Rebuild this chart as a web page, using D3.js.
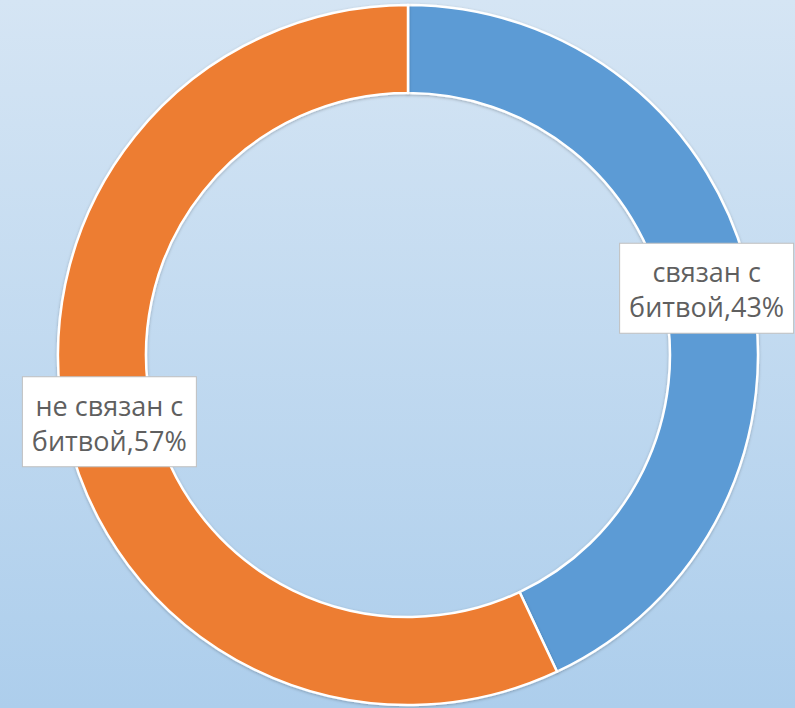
<!DOCTYPE html>
<html>
<head>
<meta charset="utf-8">
<script src="https://cdnjs.cloudflare.com/ajax/libs/d3/7.8.5/d3.min.js"></script>
<style>
  body { margin: 0; }
  svg { display: block; }
</style>
</head>
<body>
<svg id="canvas"></svg>
<script>
let categories = ["связан с битвой", "не связан с битвой"]
let shares = [43, 57]
let labelLines = [["связан с", "битвой,43%"], ["не связан с", "битвой,57%"]]
let colors = ["#5b9bd5", "#ed7d31"]

let width = 795
let height = 708

let canvas = d3.select("#canvas")
canvas.attr("width", width).attr("height", height)

// background gradient
let defs = canvas.append("defs")
let grad = defs.append("linearGradient")
               .attr("id", "bg")
               .attr("x1", 0).attr("y1", 0).attr("x2", 0).attr("y2", 1)
grad.append("stop").attr("offset", "0%").attr("stop-color", "#d5e5f4")
grad.append("stop").attr("offset", "100%").attr("stop-color", "#adceec")

let shadow = defs.append("filter").attr("id", "shadow")
                 .attr("x", "-20%").attr("y", "-20%").attr("width", "140%").attr("height", "140%")
shadow.append("feDropShadow")
      .attr("dx", 0).attr("dy", 1).attr("stdDeviation", 1.5)
      .attr("flood-color", "#000").attr("flood-opacity", 0.25)

canvas.append("rect").attr("width", width).attr("height", height).attr("fill", "url(#bg)")

let cx = 408
let cy = 355
let outerR = 350
let innerR = 262

let pie = d3.pie().sort(null).value(d => d)
let arcs = pie(shares)
let arc = d3.arc().innerRadius(innerR).outerRadius(outerR)

let g = canvas.append("g").attr("transform", `translate(${cx}, ${cy})`)

g.selectAll("path")
 .data(arcs)
 .enter().append("path")
 .attr("d", arc)
 .attr("fill", (d, i) => colors[i])
 .attr("stroke", "#ffffff")
 .attr("stroke-width", 2.5)
 .attr("stroke-linejoin", "round")
 .attr("filter", "url(#shadow)")

// data labels at slice centroids
let fontSize = 27
let boxW = 174
let boxH = 90

let labels = g.selectAll("g.label")
              .data(arcs)
              .enter().append("g")
              .attr("class", "label")
              .attr("transform", d => {
                let c = arc.centroid(d)
                return `translate(${c[0]}, ${c[1]})`
              })

labels.append("rect")
      .attr("x", -boxW / 2)
      .attr("y", -boxH / 2)
      .attr("width", boxW)
      .attr("height", boxH)
      .attr("fill", "#ffffff")
      .attr("stroke", "#bfbfbf")
      .attr("stroke-width", 1)

labels.append("text")
      .attr("text-anchor", "middle")
      .attr("font-family", "'Open Sans', sans-serif")
      .attr("font-size", fontSize)
      .attr("fill", "#5f5f5f")
      .selectAll("tspan")
      .data((d, i) => labelLines[i])
      .enter().append("tspan")
      .attr("x", 0)
      .attr("y", (t, j) => -6 + j * 35)
      .text(t => t)
</script>
</body>
</html>
